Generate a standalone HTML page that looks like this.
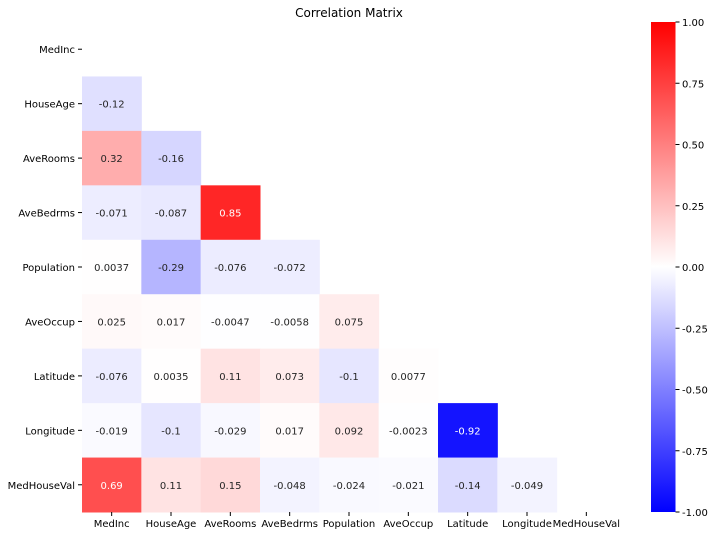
<!DOCTYPE html>
<html><head><meta charset="utf-8"><style>
body{margin:0;background:#fff;font-family:"Liberation Sans","DejaVu Sans",sans-serif;}
svg text{font-family:"DejaVu Sans","Liberation Sans",sans-serif;}
</style></head><body>
<svg id="chart" width="720" height="536" xmlns="http://www.w3.org/2000/svg">
<text x="349" y="17" font-size="12" text-anchor="middle">Correlation Matrix</text>
<defs><linearGradient id="cb" x1="0" y1="1" x2="0" y2="0">
<stop offset="0" stop-color="#0000ff"/><stop offset="0.5" stop-color="#ffffff"/><stop offset="1" stop-color="#ff0000"/></linearGradient></defs>
<rect x="651" y="22" width="24.5" height="490" fill="url(#cb)"/>
<g id="cells"></g><g id="axes"></g>
</svg>
<script>
const labels=["MedInc","HouseAge","AveRooms","AveBedrms","Population","AveOccup","Latitude","Longitude","MedHouseVal"];
const row1=[-0.12];
const row2=[0.32,-0.16];
const row3=[-0.071,-0.087,0.85];
const row4=[0.0037,-0.29,-0.076,-0.072];
const row5=[0.025,0.017,-0.0047,-0.0058,0.075];
const row6=[-0.076,0.0035,0.11,0.073,-0.1,0.0077];
const row7=[-0.019,-0.1,-0.029,0.017,0.092,-0.0023,-0.92];
const row8=[0.69,0.11,0.15,-0.048,-0.024,-0.021,-0.14,-0.049];
const cbTicks=[1,0.75,0.5,0.25,0,-0.25,-0.5,-0.75,-1];
const rows=[[],row1,row2,row3,row4,row5,row6,row7,row8];
const NS="http://www.w3.org/2000/svg";
const x0=82,x1=616,y0=22,y1=512,n=labels.length;
const cw=(x1-x0)/n,ch=(y1-y0)/n;
const xs=j=>x0+j*cw, ys=i=>y0+i*ch;
const cbY=v=>y0+(1-v)/2*(y1-y0);
function col(v){let r,g,b;if(v>=0){r=255;g=b=Math.round(255*(1-v));}else{b=255;r=g=Math.round(255*(1+v));}return [r,g,b];}
function lum(c){const l=c.map(x=>{x/=255;return x<=0.03928?x/12.92:Math.pow((x+0.055)/1.055,2.4);});return 0.2126*l[0]+0.7152*l[1]+0.0722*l[2];}
function fmt(v){return String(+v.toPrecision(2));}
const cells=document.getElementById('cells'),axes=document.getElementById('axes');
function mk(t,a,p){const e=document.createElementNS(NS,t);for(const k in a)e.setAttribute(k,a[k]);p.appendChild(e);return e;}
rows.forEach((r,i)=>r.forEach((v,j)=>{
 const c=col(v);
 const rc=mk('rect',{x:xs(j),y:ys(i),width:cw+0.5,height:ch+0.5,fill:`rgb(${c})`},cells);
 
 
 const t=mk('text',{x:xs(j)+cw/2,y:ys(i)+ch/2+4,'font-size':10,'text-anchor':'middle',fill:lum(c)>0.408?'#262626':'#fff'},cells);
 t.textContent=fmt(v);
 
 
}));
labels.forEach((l,i)=>{
 const y=ys(i)+ch/2;
 mk('line',{x1:x0-4,x2:x0,y1:y,y2:y,stroke:'#000'},axes);
 const t=mk('text',{x:x0-7,y:y+4,'font-size':10,'text-anchor':'end'},axes);t.textContent=l;
 
 
 const x=xs(i)+cw/2;
 mk('line',{x1:x,x2:x,y1:y1,y2:y1+4,stroke:'#000'},axes);
 const u=mk('text',{x:x,y:y1+15,'font-size':10,'text-anchor':'middle'},axes);u.textContent=l;
 
 
});
cbTicks.forEach(v=>{
 const y=cbY(v);
 mk('line',{x1:675.5,x2:679.5,y1:y,y2:y,stroke:'#000'},axes);
 const t=mk('text',{x:682,y:y+4,'font-size':10},axes);t.textContent=v.toFixed(2);
 
 
});
</script>
</body></html>
